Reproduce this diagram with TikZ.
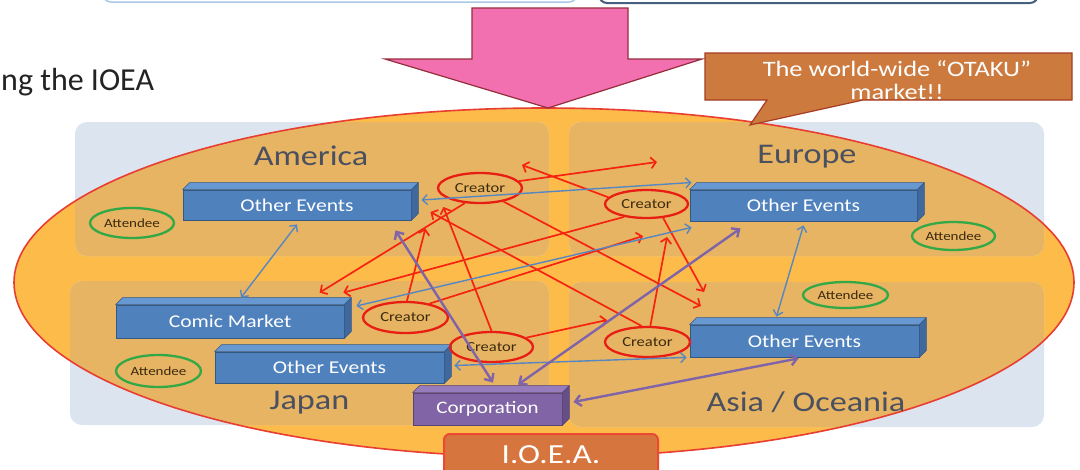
\documentclass[tikz,border=0pt]{standalone}
\usepackage{fontspec}
\setmainfont{Carlito}
\newfontfamily\dfont[FakeStretch=1.2]{Carlito}
\usetikzlibrary{shapes.geometric,arrows.meta,calc}
\definecolor{headc}{RGB}{35,35,35}
\definecolor{stripL}{RGB}{170,200,230}
\definecolor{stripD}{RGB}{70,95,125}
\definecolor{ellc}{RGB}{253,187,74}
\definecolor{ellR}{RGB}{232,62,50}
\definecolor{panelL}{RGB}{220,228,240}
\definecolor{panelT}{RGB}{230,180,98}
\definecolor{pinkc}{RGB}{243,112,176}
\definecolor{pinkD}{RGB}{150,45,60}
\definecolor{callc}{RGB}{204,122,62}
\definecolor{callD}{RGB}{165,60,35}
\definecolor{titlec}{RGB}{74,80,96}
\definecolor{evb}{RGB}{79,129,189}
\definecolor{evbD}{RGB}{52,88,132}
\definecolor{evtop}{RGB}{104,152,210}
\definecolor{evside}{RGB}{62,104,158}
\definecolor{corpc}{RGB}{128,100,165}
\definecolor{corpD}{RGB}{88,68,118}
\definecolor{corptop}{RGB}{150,124,188}
\definecolor{corpside}{RGB}{102,78,135}
\definecolor{creR}{RGB}{232,30,20}
\definecolor{creT}{RGB}{60,42,15}
\definecolor{attG}{RGB}{50,168,70}
\definecolor{redA}{RGB}{245,35,15}
\definecolor{blueA}{RGB}{86,135,195}
\definecolor{purA}{RGB}{128,100,170}
\definecolor{ioeac}{RGB}{214,118,62}
\definecolor{ioeaR}{RGB}{236,72,52}
\begin{document}
\begin{tikzpicture}[x=1pt,y=-1pt,
  evbox/.style={rectangle, fill=evb, draw=evbD, line width=0.8pt, text=white, inner sep=0pt,
    font=\dfont\fontsize{18}{20}\selectfont},
  corpbox/.style={rectangle, fill=corpc, draw=corpD, line width=0.8pt, text=white, inner sep=0pt,
    font=\dfont\fontsize{17.5}{20}\selectfont},
  crea/.style={ellipse, draw=creR, line width=2.3pt, inner sep=0pt, text=creT,
    font=\dfont\fontsize{13.8}{15}\selectfont},
  atte/.style={ellipse, draw=attG, line width=2.3pt, inner sep=0pt, text=creT,
    font=\dfont\fontsize{12.5}{14}\selectfont},
  regtitle/.style={anchor=base, inner sep=0pt, text=titlec, font=\dfont\fontsize{28.5}{30}\selectfont},
  redarr/.style={draw=redA, line width=1.7pt, -{Straight Barb[length=5pt,width=11pt]}},
  bluearr/.style={draw=blueA, line width=1.4pt, {Straight Barb[length=5pt,width=10pt]}-{Straight Barb[length=5pt,width=10pt]}},
  purarr/.style={draw=purA, line width=2.4pt, {Straight Barb[length=6pt,width=11pt]}-{Straight Barb[length=6pt,width=11pt]}}
]
\useasboundingbox (0,0) rectangle (1080,469);
\fill[white] (0,0) rectangle (1080,469);

% top strips (bottoms of boxes above)
\draw[draw=stripL, line width=1.5pt, fill=white, rounded corners=8pt] (103,-30) rectangle (577,2);
\draw[draw=stripD, line width=2pt, fill=white, rounded corners=8pt] (599,-30) rectangle (1038,3);

% heading
\node[anchor=base west, inner sep=0pt, text=headc, font=\fontsize{32}{36}\selectfont] (head) at (1,90) {ng the IOEA};

% big ellipse and region panels
\fill[ellc] (544,282.5) ellipse [x radius=530pt, y radius=174.5pt];
\fill[panelL, rounded corners=12pt] (75,122) rectangle (549,256);
\fill[panelL, rounded corners=12pt] (569,122) rectangle (1044,256);
\fill[panelL, rounded corners=12pt] (70,281) rectangle (549,425);
\fill[panelL, rounded corners=12pt] (569,282) rectangle (1044,427);
\begin{scope}
  \clip (544,282.5) ellipse [x radius=530pt, y radius=174.5pt];
  \fill[panelT, rounded corners=12pt] (75,122) rectangle (549,256);
  \fill[panelT, rounded corners=12pt] (569,122) rectangle (1044,256);
  \fill[panelT, rounded corners=12pt] (70,281) rectangle (549,425);
  \fill[panelT, rounded corners=12pt] (569,282) rectangle (1044,427);
\end{scope}
\draw[ellR, line width=1.6pt] (544,282.5) ellipse [x radius=530pt, y radius=174.5pt];

% pink block arrow
\filldraw[fill=pinkc, draw=pinkD, line width=1.2pt] (472,8) -- (628,8) -- (628,59) -- (702,59) -- (548,108) -- (385,59) -- (472,59) -- cycle;

% callout
\filldraw[fill=callc, draw=callD, line width=1.2pt] (705,53) -- (1072,53) -- (1072,100) -- (863,100) -- (750,125) -- (767,100) -- (705,100) -- cycle;
\node[align=center, inner sep=0pt, text=white, font=\dfont\fontsize{22}{23}\selectfont] (callt) at (897,80) {The world-wide “OTAKU”\\market!!};

% region titles
\node[regtitle] (tAm) at (311,165) {America};
\node[regtitle] (tEu) at (807,163) {Europe};
\node[regtitle] (tJa) at (309.5,409) {Japan};
\node[regtitle] (tAs) at (806,411) {Asia / Oceania};

% event boxes
\node[evbox, minimum width=228pt, minimum height=30pt] (oeA) at (297,205) {Other Events};
\node[evbox, minimum width=227pt, minimum height=31pt] (oeE) at (803.5,205.5) {Other Events};
\node[evbox, minimum width=228pt, minimum height=33pt] (cm) at (230,321.5) {Comic Market};
\node[evbox, minimum width=229pt, minimum height=31pt] (oeJ) at (329.5,367.5) {Other Events};
\node[evbox, minimum width=229pt, minimum height=32pt] (oeAs) at (804.5,341) {Other Events};
\node[corpbox, minimum width=149pt, minimum height=32pt] (corp) at (487.5,409) {Corporation};
\foreach \n/\t/\s/\d in {oeA/evtop/evside/evbD, oeE/evtop/evside/evbD, cm/evtop/evside/evbD,
                          oeJ/evtop/evside/evbD, oeAs/evtop/evside/evbD, corp/corptop/corpside/corpD}{
  \filldraw[fill=\t, draw=\d, line width=0.6pt, line join=round]
    (\n.north west) -- ++(7,-7) -- ([shift={(7,-7)}]\n.north east) -- (\n.north east) -- cycle;
  \filldraw[fill=\s, draw=\d, line width=0.6pt, line join=round]
    (\n.north east) -- ++(7,-7) -- ([shift={(7,-7)}]\n.south east) -- (\n.south east) -- cycle;
}

% creators and attendees
\node[crea, minimum width=84pt, minimum height=30pt] (c1) at (480,188) {Creator};
\node[crea, minimum width=83pt, minimum height=28pt] (c2) at (646.5,204) {Creator};
\node[crea, minimum width=85pt, minimum height=31pt] (c3) at (405.5,317.5) {Creator};
\node[crea, minimum width=83pt, minimum height=30pt] (c4) at (491.5,347) {Creator};
\node[crea, minimum width=85pt, minimum height=30pt] (c5) at (647.5,342) {Creator};
\node[atte, minimum width=84pt, minimum height=30pt] (a1) at (132,223) {Attendee};
\node[atte, minimum width=83pt, minimum height=28pt] (a2) at (953.5,236) {Attendee};
\node[atte, minimum width=85pt, minimum height=26pt] (a3) at (845.5,295) {Attendee};
\node[atte, minimum width=85pt, minimum height=32pt] (a4) at (158.5,371) {Attendee};

% free ends of creator arrows
\coordinate (r1) at (522,165);
\coordinate (r2) at (657,162);
\coordinate (r3) at (701,306);
\coordinate (r4) at (704,292);
\coordinate (r9) at (643,236);
\coordinate (r10) at (607,320);
\coordinate (r11) at (667,237);

% red creator arrows
\draw[redarr] (c2.170) -- (r1);
\draw[redarr] (c1.10) -- (r2);
\draw[redarr] (c1.-30) -- (r3);
\draw[redarr] (c2.-40) -- (r4);
\draw[redarr] (c2.-150) -- ([shift={(-1,-12)}]cm.north east);
\draw[redarr] (c3.85) -- ([shift={(14,8)}]oeA.south east);
\draw[redarr] (c4.north) -- ([shift={(32,2)}]oeA.east);
\draw[redarr] (c5.110) -- ([shift={(19,7)}]oeA.east);
\draw[redarr] (c3.30) -- (r9);
\draw[redarr] (c4.15) -- (r10);
\draw[redarr] (c5.80) -- (r11);
\draw[redarr] (c1.225) -- ([shift={(204,-12)}]cm.north west);

% blue links between events
\draw[bluearr] ([shift={(0,4)}]oeA.south) -- ([shift={(11,-7)}]cm.north);
\draw[bluearr] ([shift={(0,4)}]oeE.south) -- ([shift={(-28,-8)}]oeAs.north);
\draw[bluearr] ([shift={(10,-5)}]oeA.east) -- ([shift={(2,-23)}]oeE.west);
\draw[bluearr] ([shift={(12,-15.5)}]cm.east) -- ([shift={(2,6)}]oeE.south west);
\draw[bluearr] ([shift={(10,-2)}]oeJ.east) -- ([shift={(-3,0)}]oeAs.south west);

% purple links to corporation
\draw[purarr] ([shift={(-16,10)}]oeA.south east) -- ([shift={(5.5,-10)}]corp.north);
\draw[purarr] ([shift={(-63,7)}]oeE.south) -- ([shift={(30.5,-8)}]corp.north);
\draw[purarr] ([shift={(-6,1)}]oeAs.south) -- ([shift={(11,-7)}]corp.east);

% I.O.E.A. box
\node[anchor=north west, fill=ioeac, draw=ioeaR, line width=2pt, rounded corners=6pt,
      minimum width=214pt, minimum height=42pt, inner sep=0pt, text=white,
      font=\dfont\fontsize{27.6}{30}\selectfont] (ioea) at (443,433) {I.O.E.A.};
\end{tikzpicture}
\end{document}
